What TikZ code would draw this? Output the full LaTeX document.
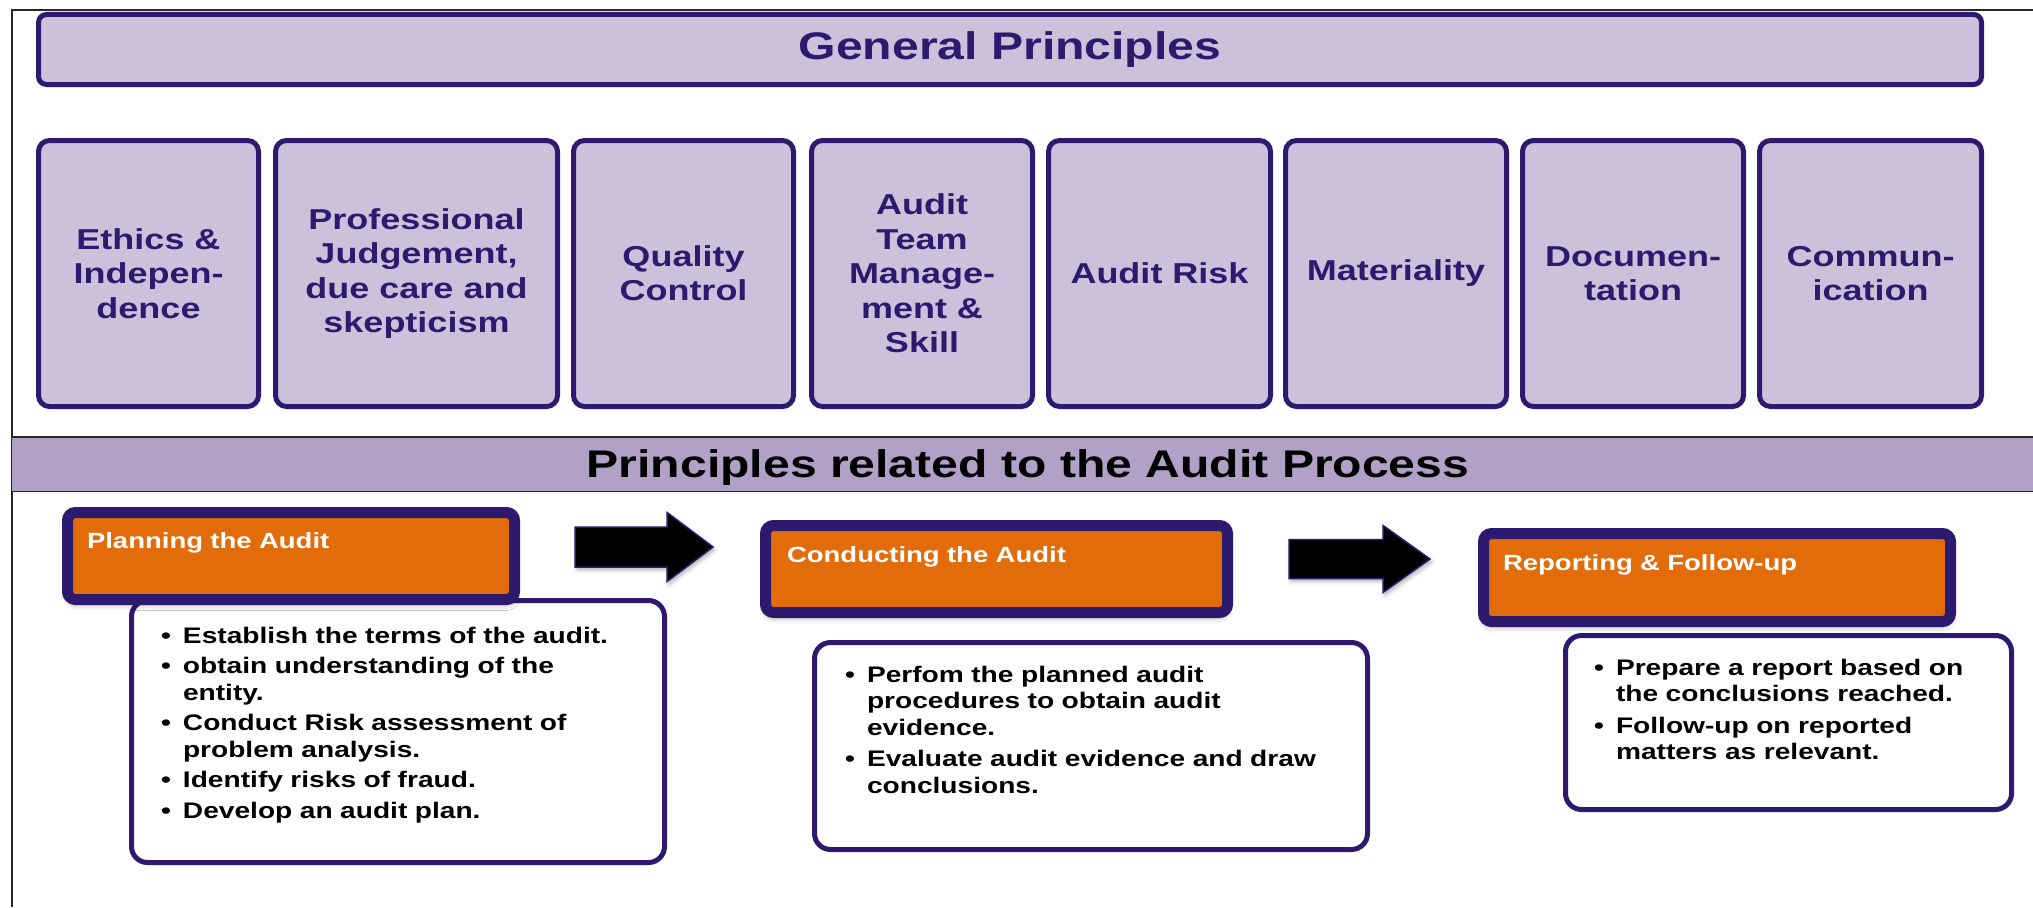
\documentclass[tikz,border=0pt]{standalone}
\usepackage{fontspec}
\setmainfont{Liberation Sans}[FakeStretch=1.25]
\usetikzlibrary{calc,shadows.blur}

\definecolor{dkp}{HTML}{2C1A6E}
\definecolor{lav}{HTML}{CBC1DB}
\definecolor{bandc}{HTML}{B1A1C7}
\definecolor{orng}{HTML}{E36C0A}

% bullet lines with hanging indent (first one, then the following ones)
\newcommand{\bfirst}{\hangindent=22pt\hangafter=1\makebox[22pt][l]{\textbullet}\ignorespaces}
\newcommand{\bpt}[1][5pt]{\par\vspace{#1}\noindent\bfirst}

\begin{document}
\begin{tikzpicture}[
  x=1pt,y=1pt,
  frm/.style ={draw=black!85,line width=1.6pt},
  pb/.style  ={draw=dkp,fill=lav,line width=5pt,rounded corners=11pt,align=center,
               text=dkp,font=\fontsize{28.8}{34.4}\selectfont\bfseries,
               minimum height=266pt,inner sep=0pt},
  hd/.style  ={draw=dkp,fill=orng,line width=11pt,rounded corners=8pt,align=left,
               inner ysep=0pt,text=white,font=\fontsize{22}{26}\selectfont\bfseries,
               blur shadow={shadow xshift=0pt,shadow yshift=-5pt,shadow blur radius=6pt,shadow opacity=35}},
  cnt/.style ={draw=dkp,fill=white,line width=5pt,rounded corners=16pt,align=left,
               inner ysep=0pt,font=\fontsize{22.5}{26.5}\selectfont\bfseries},
  blk/.style ={fill=black,draw=dkp,line width=1.5pt,line join=miter,
               blur shadow={shadow xshift=2pt,shadow yshift=-3pt,shadow blur radius=4pt,shadow opacity=30}}
]
\useasboundingbox (0,0) rectangle (2033,-907);

% ======== frame and band
\draw[frm] (12,-907) |- (2033,-10);
\node[fill=bandc,minimum width=2021pt,minimum height=54pt,inner sep=0pt,anchor=north west]
  (band) at (12,-437) {};
\draw[frm] (band.north west) -- (band.north east);
\draw[frm] (band.south west) -- (band.south east);
\node[anchor=base,font=\fontsize{38.5}{46}\selectfont\bfseries] (bandt) at (1028,-477)
  {Principles related to the Audit Process};

% ======== general principles
\node[draw=dkp,fill=lav,line width=5pt,rounded corners=8pt,text=dkp,
  font=\fontsize{38.5}{46}\selectfont\bfseries,
  minimum width=1943pt,minimum height=70pt,inner sep=0pt] (gp) at (1010,-49.5)
  {General Principles};

\node[pb,minimum width=220pt] (eth)  at (148.5,-273.5) {Ethics \&\\Indepen-\\dence};
\node[pb,minimum width=282pt] (prof) at (416.5,-273.5) {Professional\\Judgement,\\due care and\\skepticism};
\node[pb,minimum width=220pt] (qc)   at (683.5,-273.5) {Quality\\Control};
\node[pb,minimum width=221pt] (team) at (922,-273.5)   {Audit\\Team\\Manage-\\ment \&\\Skill};
\node[pb,minimum width=222pt] (risk) at (1159.5,-273.5){Audit Risk};
\node[pb,minimum width=221pt] (mat)  at (1396,-273.5)  {Materiality};
\node[pb,minimum width=221pt] (doc)  at (1633,-273.5)  {Documen-\\tation};
\node[pb,minimum width=222pt] (com)  at (1870.5,-273.5){Commun-\\ication};

% ======== audit process: bullet boxes
\node[cnt,inner xsep=29.5pt,text width=474pt,text height=42.5pt,text depth=219.5pt]
  (plantx) at (398,-731.5)
  {\bfirst Establish the terms of the audit.
   \bpt[4pt] obtain understanding of the\newline entity.
   \bpt[4pt] Conduct Risk assessment of\newline problem analysis.
   \bpt[4pt] Identify risks of fraud.
   \bpt[4pt] Develop an audit plan.\par};
\node[cnt,inner xsep=30.5pt,text width=492pt,text height=39.5pt,text depth=167.5pt]
  (condtx) at (1091,-746)
  {\bfirst Perfom the planned audit\newline procedures to obtain audit\newline evidence.
   \bpt Evaluate audit evidence and draw\newline conclusions.\par};
\node[cnt,inner xsep=28.5pt,text width=389pt,text height=39.5pt,text depth=134.5pt]
  (reptx) at (1788.5,-722.5)
  {\bfirst Prepare a report based on\newline the conclusions reached.
   \bpt Follow-up on reported\newline matters as relevant.\par};

% ======== audit process: headers
\node[hd,inner xsep=19.5pt,text width=408pt,text height=35.5pt,text depth=51.5pt]
  (plan) at (291,-556) {Planning the Audit};
\node[hd,inner xsep=21.5pt,text width=419pt,text height=36.5pt,text depth=50.5pt]
  (cond) at (996.5,-569) {Conducting the Audit};
\node[hd,inner xsep=19.5pt,text width=428pt,text height=36.5pt,text depth=51.5pt]
  (rep) at (1717,-577.5) {Reporting \& Follow-up};

% ======== block arrows between the stages
\coordinate (a1) at ($(plan.east)+(55,9)$);
\coordinate (a2) at ($(cond.east)+(56,10)$);
\draw[blk] (a1) ++(0,20) -- ++(92,0) -- ++(0,14.5) -- ++(46,-34.5) -- ++(-46,-34.5)
  -- ++(0,14.5) -- ++(-92,0) -- cycle;
\draw[blk] (a2) ++(0,19.5) -- ++(94,0) -- ++(0,14) -- ++(47,-33.5) -- ++(-47,-33.5)
  -- ++(0,14) -- ++(-94,0) -- cycle;
\end{tikzpicture}
\end{document}
